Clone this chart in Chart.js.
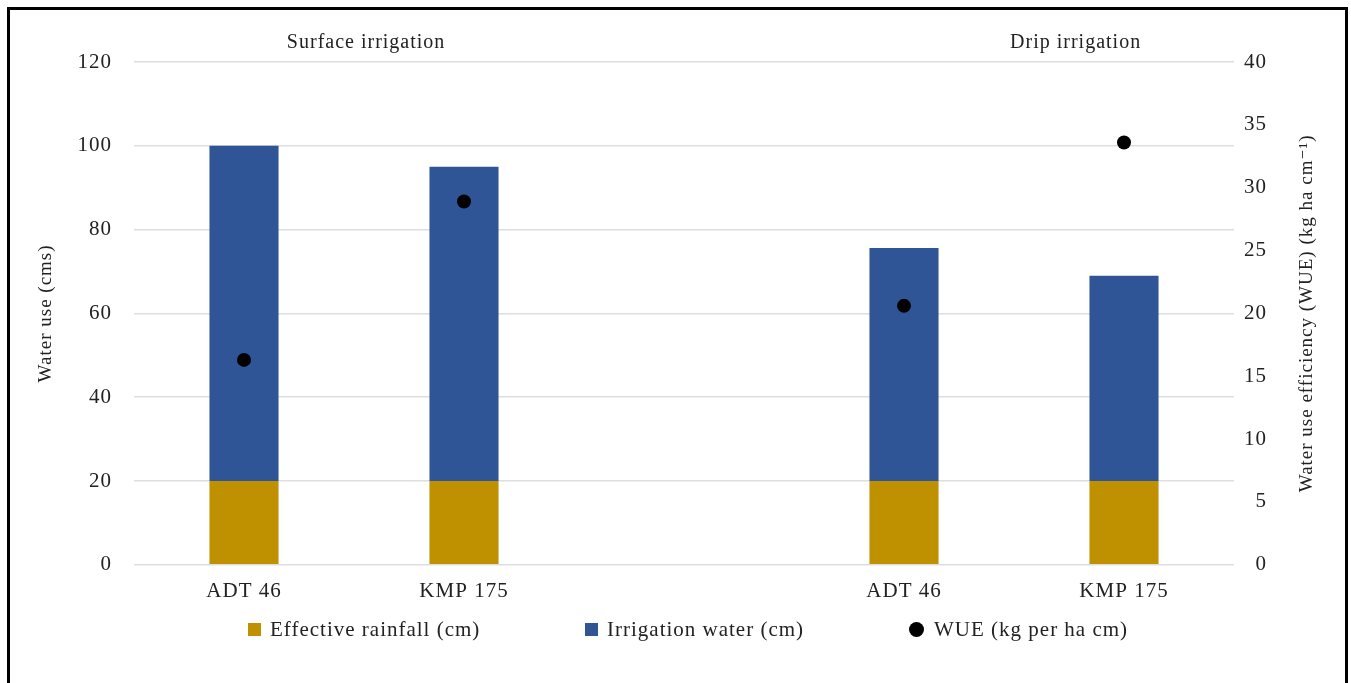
<!DOCTYPE html>
<html>
<head>
<meta charset="utf-8">
<title>Water use and water use efficiency</title>
<script src="https://cdn.jsdelivr.net/npm/chart.js@4.4.1/dist/chart.umd.min.js"></script>
<style>
  html, body { margin: 0; padding: 0; background: #fff; overflow: hidden; }
  #wrap { position: relative; width: 1351px; height: 683px; }
  #frame { position: absolute; left: 7px; top: 7px; width: 1341px; height: 720px;
           border: 3px solid #000; box-sizing: border-box; pointer-events: none; }
  #chart { position: absolute; left: 0; top: 0; }
  .lg { position: absolute; top: 617px; height: 24px; display: flex; align-items: center;
        font: 21px "Liberation Serif", "DejaVu Serif", serif; letter-spacing: 1px;
        color: #222; white-space: nowrap; }
  .lg i { display: inline-block; width: 13px; height: 13px; margin-right: 9px; }
  .lg i.dot { width: 15px; height: 15px; border-radius: 50%; margin-right: 10px; }
</style>
</head>
<body>
<div id="wrap">
  <canvas id="chart" width="1351" height="683"></canvas>
  <div id="legend"></div>
  <div id="frame"></div>
</div>
<script>
// Varieties under the two irrigation methods; the empty slot separates the groups
const categories = ['ADT 46', 'KMP 175', '', 'ADT 46', 'KMP 175'];
// Water use components (cm)
const effectiveRainfall = [20, 20, null, 20, 20];
const irrigationWater = [80, 75, null, 55.6, 49];
// Water use efficiency (kg per ha cm)
const wue = [16.3, 28.9, null, 20.6, 33.6];
// Axis tick settings
const waterUseTicks = { min: 0, max: 120, step: 20 };
const wueTicks = { min: 0, max: 40, step: 5 };
const groupTitles = ['Surface irrigation', 'Drip irrigation'];

const serif = '"Liberation Serif", "DejaVu Serif", serif';
const textColor = '#222';

// Slightly tracked lettering for all canvas text
const tracking = {
  id: 'tracking',
  beforeUpdate(chart) { chart.ctx.letterSpacing = '1px'; },
  beforeDraw(chart) { chart.ctx.letterSpacing = '1px'; }
};

// Group headings above the plot and the right-hand axis title (read bottom-to-top)
const decorations = {
  id: 'decorations',
  afterDraw(chart, args, opts) {
    const { ctx, chartArea, scales } = chart;
    ctx.save();
    ctx.letterSpacing = '1px';
    ctx.fillStyle = textColor;
    ctx.font = '20px ' + serif;
    ctx.textAlign = 'center';
    ctx.textBaseline = 'middle';
    opts.headings.forEach((h, i) => {
      ctx.fillText(groupTitles[i], scales.x.getPixelForValue(h.at), h.y);
    });
    ctx.translate(scales.y1.left + opts.rightTitleOffset, (chartArea.top + chartArea.bottom) / 2);
    ctx.rotate(-Math.PI / 2);
    ctx.font = '19px ' + serif;
    ctx.fillText(opts.rightTitle, 0, 0);
    ctx.restore();
  }
};

const chart = new Chart(document.getElementById('chart'), {
  data: {
    labels: categories,
    datasets: [
      {
        type: 'line',
        label: 'WUE (kg per ha cm)',
        data: wue,
        yAxisID: 'y1',
        showLine: false,
        pointRadius: 7,
        pointHoverRadius: 7,
        pointBackgroundColor: '#000',
        pointBorderWidth: 0,
        backgroundColor: '#000',
        borderColor: '#000',
        order: 0
      },
      {
        type: 'bar',
        label: 'Effective rainfall (cm)',
        data: effectiveRainfall,
        backgroundColor: '#bf9000',
        stack: 'water',
        yAxisID: 'y',
        categoryPercentage: 1,
        barPercentage: 0.314,
        order: 1
      },
      {
        type: 'bar',
        label: 'Irrigation water (cm)',
        data: irrigationWater,
        backgroundColor: '#2f5597',
        stack: 'water',
        yAxisID: 'y',
        categoryPercentage: 1,
        barPercentage: 0.314,
        order: 1
      }
    ]
  },
  options: {
    responsive: false,
    animation: false,
    devicePixelRatio: 1,
    layout: { padding: { top: 62, bottom: 65, left: 0, right: 84 } },
    plugins: {
      legend: { display: false },
      tooltip: { enabled: false },
      decorations: {
        headings: [ { at: 0.555, y: 43 }, { at: 3.78, y: 43 } ],
        rightTitle: 'Water use efficiency (WUE) (kg ha cm\u207B\u00B9)',
        rightTitleOffset: 73
      }
    },
    scales: {
      x: {
        stacked: true,
        grid: { display: false, drawTicks: false },
        border: { display: false },
        ticks: { color: textColor, font: { family: serif, size: 21 }, padding: 14, maxRotation: 0 }
      },
      y: {
        position: 'left',
        stacked: true,
        min: waterUseTicks.min,
        max: waterUseTicks.max,
        grid: { color: '#dedede', lineWidth: 1.5, drawTicks: false },
        border: { display: false },
        ticks: { stepSize: waterUseTicks.step, color: textColor, font: { family: serif, size: 21 }, padding: 22 },
        title: { display: true, text: 'Water use (cms)', color: textColor,
                 font: { family: serif, size: 19 }, padding: { top: 35, bottom: 0 } },
        afterFit(scale) { scale.width = 134; }
      },
      y1: {
        position: 'right',
        min: wueTicks.min,
        max: wueTicks.max,
        grid: { display: false, drawTicks: false },
        border: { display: false },
        ticks: { stepSize: wueTicks.step, color: textColor, font: { family: serif, size: 21 },
                 padding: 10, crossAlign: 'far' },
        afterFit(scale) { scale.width = 33; }
      }
    }
  },
  plugins: [tracking, decorations]
});

// Legend laid out below the chart, in series order
const legendItems = [
  { ds: 1, left: 248, shape: '' },
  { ds: 2, left: 585, shape: '' },
  { ds: 0, left: 909, shape: 'dot' }
];
const legendEl = document.getElementById('legend');
legendItems.forEach(item => {
  const ds = chart.data.datasets[item.ds];
  const el = document.createElement('div');
  el.className = 'lg';
  el.style.left = item.left + 'px';
  const sw = document.createElement('i');
  if (item.shape) sw.className = item.shape;
  sw.style.background = ds.backgroundColor;
  el.appendChild(sw);
  el.appendChild(document.createTextNode(ds.label));
  legendEl.appendChild(el);
});
</script>
</body>
</html>
